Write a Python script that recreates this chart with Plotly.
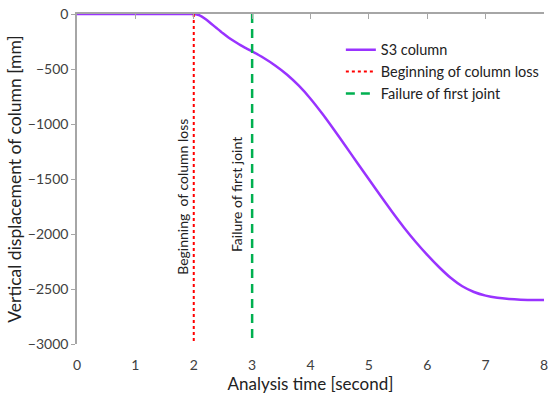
import plotly.graph_objects as go

time_s = [0, 1, 1.9, 2.0, 2.1, 2.2, 2.3, 2.4, 2.5, 2.6, 2.7, 2.8, 2.9, 3.0, 3.2, 3.4, 3.6,
          3.8, 4.0, 4.2, 4.4, 4.6, 4.8, 5.0, 5.2, 5.4, 5.6, 5.8, 6.0, 6.2, 6.4, 6.6,
          6.8, 7.0, 7.2, 7.4, 7.6, 7.8, 8.0]
disp_mm = [0, 0, 0, 0, -12, -45, -88, -132, -175, -215, -250, -283, -312, -340, -400, -470, -552,
           -652, -770, -905, -1050, -1200, -1352, -1503, -1653, -1800, -1940, -2070, -2190,
           -2300, -2398, -2475, -2527, -2560, -2580, -2591, -2597, -2599, -2600]
loss_x = [2, 2]
fail_x = [3, 3]
vline_y = [0, -3000]
x_ticks = [0, 1, 2, 3, 4, 5, 6, 7, 8]
y_ticks = [0, -500, -1000, -1500, -2000, -2500, -3000]

FONT = "Lato, 'Open Sans', sans-serif"
TXT = "#404040"

fig = go.Figure()
fig.add_trace(go.Scatter(x=time_s, y=disp_mm, mode="lines", name="S3 column",
                         line=dict(color="#9933FF", width=2.5, shape="spline", smoothing=0.8)))
fig.add_trace(go.Scatter(x=loss_x, y=vline_y, mode="lines", name="Beginning of column loss",
                         line=dict(color="#FF0000", width=2, dash="dot")))
fig.add_trace(go.Scatter(x=fail_x, y=vline_y, mode="lines", name="Failure of first joint",
                         line=dict(color="#00B050", width=2.5, dash="9px,6px")))
# top axis carrier (invisible)
fig.add_trace(go.Scatter(x=[0, 8], y=[0, 0], xaxis="x2", mode="lines",
                         line=dict(width=0), showlegend=False, hoverinfo="skip"))

fig.update_layout(
    width=548, height=399,
    margin=dict(l=77, r=0, t=14, b=55),
    paper_bgcolor="white", plot_bgcolor="white",
    font=dict(family=FONT, color=TXT, size=14),
    showlegend=True,
    legend=dict(x=0.565, y=0.94, xanchor="left", yanchor="top",
                bgcolor="rgba(0,0,0,0)", font=dict(size=14.5, color="#222"),
                tracegroupgap=0, itemwidth=30),
    xaxis=dict(range=[0, 8], tickvals=x_ticks, showgrid=False, zeroline=False,
               showline=False, ticks="", ticklabelstandoff=11,
               ticklabeloverflow="allow",
               tickfont=dict(size=14, color=TXT),
               title=dict(text="Analysis time [second]", font=dict(size=17, color="#222"), standoff=4)),
    xaxis2=dict(range=[0, 8], overlaying="x", side="top", anchor="y",
                tickvals=x_ticks, showticklabels=False, showgrid=False, zeroline=False,
                showline=True, linecolor="#A6A6A6", linewidth=1.5,
                ticks="inside", ticklen=5, tickcolor="#A6A6A6"),
    yaxis=dict(range=[-3000, 0], tickvals=y_ticks, showgrid=False, zeroline=False,
               showline=True, linecolor="#A6A6A6", linewidth=1.5,
               ticks="outside", ticklen=4, tickcolor="#A6A6A6",
               tickfont=dict(size=14, color=TXT),
               title=dict(text="Vertical displacement of column [mm]",
                          font=dict(size=17.5, color="#222"), standoff=2)),
)

fig.add_annotation(x=2, y=-1664, xref="x", yref="y", text="Beginning\u00a0 of column loss",
                   textangle=-90, showarrow=False, xshift=-12,
                   font=dict(size=14, color="#222", family=FONT))
fig.add_annotation(x=3, y=-1645, xref="x", yref="y", text="Failure of first joint",
                   textangle=-90, showarrow=False, xshift=-15,
                   font=dict(size=14, color="#222", family=FONT))

fig.write_html("out.html")
